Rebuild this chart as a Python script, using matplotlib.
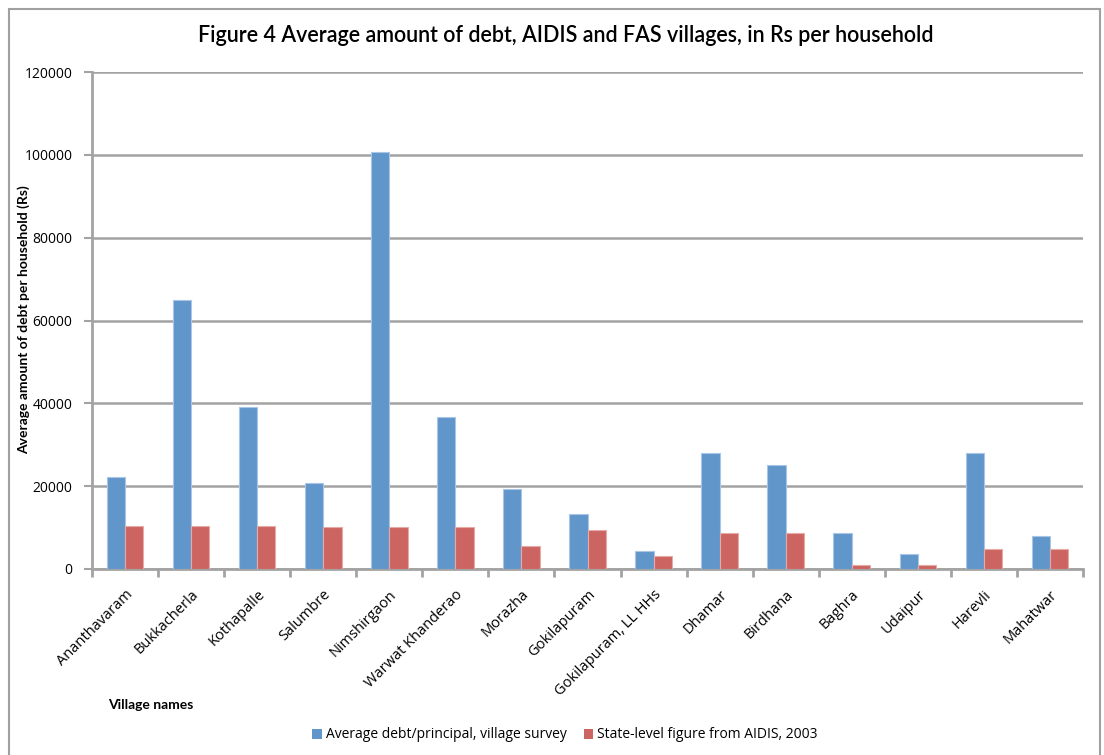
import numpy as np
import matplotlib.pyplot as plt
from matplotlib.patches import Rectangle, Patch

villages = ['Ananthavaram', 'Bukkacherla', 'Kothapalle', 'Salumbre', 'Nimshirgaon',
            'Warwat Khanderao', 'Morazha', 'Gokilapuram', 'Gokilapuram, LL HHs',
            'Dhamar', 'Birdhana', 'Baghra', 'Udaipur', 'Harevli', 'Mahatwar']
village_survey = [22200, 65000, 39100, 20800, 100700, 36800, 19300, 13400, 4300,
                  27900, 25200, 8700, 3700, 27900, 7900]
aidis_2003 = [10400, 10400, 10400, 10200, 10200, 10200, 5500, 9300, 3100,
              8700, 8700, 1000, 1000, 4900, 4900]

BLUE = '#6096c9'
RED = '#cc6561'
GRID = '#a3a3a3'

plt.rcParams['font.family'] = ['Open Sans', 'DejaVu Sans']

fig = plt.figure(figsize=(11.04, 7.55), dpi=100)
ax = fig.add_axes([92 / 1104, 1 - 569 / 755, (1083 - 92) / 1104, (569 - 72) / 755])

x = np.arange(len(villages))
w = 0.277
ax.bar(x - w / 2, village_survey, w, color=BLUE, edgecolor='#a9c6e6', linewidth=0.8, zorder=3)
ax.bar(x + w / 2, aidis_2003, w, color=RED, edgecolor='#e6aaa7', linewidth=0.8, zorder=3)

ax.set_xlim(-0.5, len(villages) - 0.5)
ax.set_ylim(0, 120000)
ax.set_yticks(np.arange(0, 120001, 20000))
ax.yaxis.grid(True, color=GRID, linewidth=1.8, zorder=0)
ax.tick_params(axis='y', length=6, width=1.5, color=GRID, labelsize=10, pad=8)

# category ticks sit on the group boundaries, labels at the centres
ax.set_xticks(np.arange(-0.5, len(villages)), minor=False)
ax.set_xticklabels([])
ax.tick_params(axis='x', length=6, width=2, color=GRID)
ax.set_xticks(x, minor=True)
ax.set_xticklabels(villages, minor=True, rotation=45, ha='right', rotation_mode='anchor', fontsize=10.5)
ax.tick_params(axis='x', which='minor', length=0, pad=13)

for s in ['top', 'right']:
    ax.spines[s].set_visible(False)
for s in ['left', 'bottom']:
    ax.spines[s].set_color(GRID)
    ax.spines[s].set_linewidth(2)

fig.text(566 / 1104, 1 - 35 / 755, 'Figure 4 Average amount of debt, AIDIS and FAS villages, in Rs per household',
         ha='center', va='center', fontsize=15.5, fontweight='semibold', family=['Lato', 'DejaVu Sans'])
fig.text(24 / 1104, 1 - 320 / 755, 'Average amount of debt per household (Rs)', rotation=90,
         ha='center', va='center', fontsize=10, fontweight='bold', family=['Lato', 'DejaVu Sans'])
fig.text(108 / 1104, 1 - 705 / 755, 'Village names', ha='left', va='center',
         fontsize=10, fontweight='bold', family=['Lato', 'DejaVu Sans'])

handles = [Patch(facecolor=BLUE), Patch(facecolor=RED)]
fig.legend(handles, ['Average debt/principal, village survey', 'State-level figure from AIDIS, 2003'],
           loc='center', bbox_to_anchor=(565 / 1104, 1 - 735 / 755), ncol=2, frameon=False,
           fontsize=10, handlelength=0.7, handleheight=0.7, handletextpad=0.3, columnspacing=1.2)

fig.patches.append(Rectangle((9 / 1104, -0.01), (1100 - 9) / 1104, 1 - 9 / 755 + 0.01,
                             transform=fig.transFigure, fill=False, edgecolor='#a0a0a0', linewidth=1.5))

fig.savefig('out.png', dpi=100)
